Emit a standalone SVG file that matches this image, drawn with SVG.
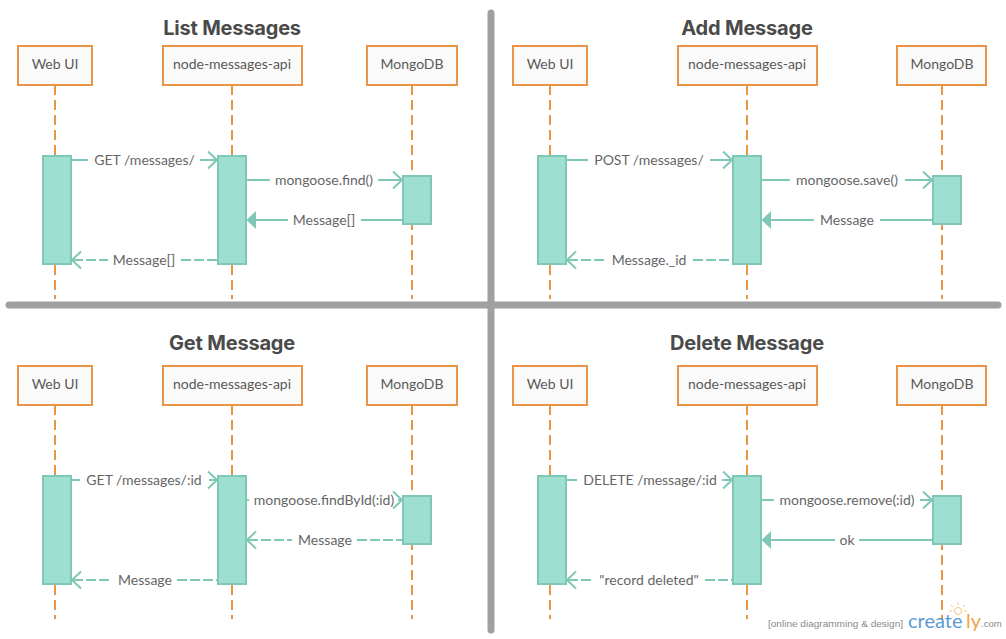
<svg xmlns="http://www.w3.org/2000/svg" width="1006" height="639" viewBox="0 0 1006 639">
<style>
text{font-family:Lato,"Liberation Sans",sans-serif;text-anchor:middle}
.bg{fill:#fff}
.title{font-family:Inter,"Liberation Sans",sans-serif;font-weight:700;font-size:20px;fill:#4a4a4a;letter-spacing:-.2px}
.box{fill:#fafafa;stroke:#ea9448;stroke-width:2}
.name{font-size:14px;fill:#595959}
.life{stroke:#ea9448;stroke-width:2;stroke-dasharray:10 5;fill:none}
.act{fill:#9fdfd1;stroke:#7fc8b6;stroke-width:2}
.m{stroke:#7fc8b6;stroke-width:2;fill:none}
.d{stroke-dasharray:10 3}
.open{stroke:#7fc8b6;stroke-width:2;fill:none}
.fill{fill:#7fc8b6;stroke:none}
.lab{font-size:14px;fill:#666}
.sep{stroke:#a0a0a0;stroke-width:7;stroke-linecap:round}
.wm{font-family:"Liberation Sans",sans-serif;font-size:9.500px;fill:#8a8a8a}
.logo{font-family:Lato,"Liberation Sans",sans-serif;font-size:20px;text-anchor:start}
</style>
<defs>
<g id="oR"><path class="open" d="M-9 -8.500L0 0L-9 8.500"/></g>
<g id="oL"><path class="open" d="M9 -8.500L0 0L9 8.500"/></g>
<path id="fL" class="fill" d="M0 0L9.500 -9V9Z"/>
</defs>
<rect class="bg" width="1006" height="639"/>

<g id="separators">
<line class="sep" x1="491" y1="13" x2="491" y2="630"/>
<line class="sep" x1="9" y1="305" x2="998" y2="305"/>
</g>

<g id="titles">
<text class="title" x="232" y="35">List Messages</text>
<text class="title" x="747" y="35">Add Message</text>
<text class="title" x="232" y="350">Get Message</text>
<text class="title" x="747" y="350">Delete Message</text>
</g>

<g id="lifelines">
<line class="life" x1="55" y1="85" x2="55" y2="299"/>
<line class="life" x1="232" y1="85" x2="232" y2="299"/>
<line class="life" x1="412" y1="85" x2="412" y2="299"/>
<line class="life" x1="550" y1="85" x2="550" y2="299"/>
<line class="life" x1="747" y1="85" x2="747" y2="299"/>
<line class="life" x1="942" y1="85" x2="942" y2="299"/>
<line class="life" x1="55" y1="405" x2="55" y2="619"/>
<line class="life" x1="232" y1="405" x2="232" y2="619"/>
<line class="life" x1="412" y1="405" x2="412" y2="619"/>
<line class="life" x1="550" y1="405" x2="550" y2="619"/>
<line class="life" x1="747" y1="405" x2="747" y2="619"/>
<line class="life" x1="942" y1="405" x2="942" y2="619"/>
</g>

<g id="list-webui"><rect class="box" x="18" y="46" width="74" height="39"/><text class="name" x="55" y="69">Web UI</text></g>
<g id="list-api"><rect class="box" x="163" y="46" width="139" height="39"/><text class="name" x="232" y="69">node-messages-api</text></g>
<g id="list-mongo"><rect class="box" x="367" y="46" width="90" height="39"/><text class="name" x="412" y="69">MongoDB</text></g>
<g id="add-webui"><rect class="box" x="513" y="46" width="74" height="39"/><text class="name" x="550" y="69">Web UI</text></g>
<g id="add-api"><rect class="box" x="678" y="46" width="139" height="39"/><text class="name" x="747" y="69">node-messages-api</text></g>
<g id="add-mongo"><rect class="box" x="897" y="46" width="89" height="39"/><text class="name" x="942" y="69">MongoDB</text></g>
<g id="get-webui"><rect class="box" x="18" y="366" width="74" height="39"/><text class="name" x="55" y="389">Web UI</text></g>
<g id="get-api"><rect class="box" x="163" y="366" width="139" height="39"/><text class="name" x="232" y="389">node-messages-api</text></g>
<g id="get-mongo"><rect class="box" x="367" y="366" width="90" height="39"/><text class="name" x="412" y="389">MongoDB</text></g>
<g id="del-webui"><rect class="box" x="513" y="366" width="74" height="39"/><text class="name" x="550" y="389">Web UI</text></g>
<g id="del-api"><rect class="box" x="678" y="366" width="139" height="39"/><text class="name" x="747" y="389">node-messages-api</text></g>
<g id="del-mongo"><rect class="box" x="897" y="366" width="89" height="39"/><text class="name" x="942" y="389">MongoDB</text></g>

<g id="activations">
<rect class="act" x="43" y="156" width="28" height="108"/>
<rect class="act" x="218" y="156" width="28" height="108"/>
<rect class="act" x="403" y="176" width="28" height="48"/>
<rect class="act" x="538" y="156" width="28" height="108"/>
<rect class="act" x="733" y="156" width="28" height="108"/>
<rect class="act" x="933" y="176" width="28" height="48"/>
<rect class="act" x="43" y="476" width="28" height="108"/>
<rect class="act" x="218" y="476" width="28" height="108"/>
<rect class="act" x="403" y="496" width="28" height="48"/>
<rect class="act" x="538" y="476" width="28" height="108"/>
<rect class="act" x="733" y="476" width="28" height="108"/>
<rect class="act" x="933" y="496" width="28" height="48"/>
</g>

<g id="connectors">
<path class="m" d="M72 160H88M200 160H216"/><use href="#oR" x="217" y="160"/>
<path class="m" d="M247 180H270M378 180H401"/><use href="#oR" x="402" y="180"/>
<path class="m" d="M256 220H288M361 220H402"/><use href="#fL" x="246.500" y="220"/>
<path class="m d" d="M73 260H108M181 260H217"/><use href="#oL" x="72" y="260"/>

<path class="m" d="M567 160H588M710 160H731"/><use href="#oR" x="732" y="160"/>
<path class="m" d="M762 180H790M905 180H931"/><use href="#oR" x="932" y="180"/>
<path class="m" d="M771 220H814M880 220H932"/><use href="#fL" x="761.500" y="220"/>
<path class="m d" d="M568 260H606M693 260H732"/><use href="#oL" x="567" y="260"/>

<path class="m" d="M72 480H80M209 480H216"/><use href="#oR" x="217" y="480"/>
<path class="m" d="M247 500H249M398 500H401"/><use href="#oR" x="402" y="500"/>
<path class="m d" d="M248 540H292M357 540H402"/><use href="#oL" x="247" y="540"/>
<path class="m d" d="M73 580H112M177 580H217"/><use href="#oL" x="72" y="580"/>

<path class="m" d="M567 480H577M722 480H731"/><use href="#oR" x="732" y="480"/>
<path class="m" d="M762 500H774M920 500H931"/><use href="#oR" x="932" y="500"/>
<path class="m" d="M771 540H835M859 540H932"/><use href="#fL" x="761.500" y="540"/>
<path class="m d" d="M568 580H594M705 580H732"/><use href="#oL" x="567" y="580"/>
</g>

<g id="labels">
<text class="lab" x="144.500" y="165">GET /messages/</text>
<text class="lab" x="324" y="185">mongoose.find()</text>
<text class="lab" x="324" y="225">Message[]</text>
<text class="lab" x="144" y="265">Message[]</text>
<text class="lab" x="649" y="165">POST /messages/</text>
<text class="lab" x="847" y="185">mongoose.save()</text>
<text class="lab" x="847" y="225">Message</text>
<text class="lab" x="649" y="265">Message._id</text>
<text class="lab" x="144" y="485">GET /messages/:id</text>
<text class="lab" x="324" y="505">mongoose.findById(:id)</text>
<text class="lab" x="325" y="545">Message</text>
<text class="lab" x="145" y="585">Message</text>
<text class="lab" x="650" y="485">DELETE /message/:id</text>
<text class="lab" x="847" y="505">mongoose.remove(:id)</text>
<text class="lab" x="847" y="545">ok</text>
<text class="lab" x="649" y="585">"record deleted"</text>
</g>

<g id="watermark">
<text class="wm" x="835.500" y="627" textLength="135" lengthAdjust="spacingAndGlyphs">[online diagramming &amp; design]</text>
<g fill="none" stroke="#f7c67e" stroke-width="1">
<circle cx="958" cy="611" r="3.500"/>
<path d="M958 602V605M951 605L953 607M965 605L963 607M949 611H952M964 611H967"/>
</g>
<text class="logo" x="908" y="628" fill="#5b9bd5">create</text>
<text class="logo" x="966" y="628" fill="#f2a24a">ly</text>
<text class="wm" x="981" y="627" style="text-anchor:start">.com</text>
</g>
</svg>
